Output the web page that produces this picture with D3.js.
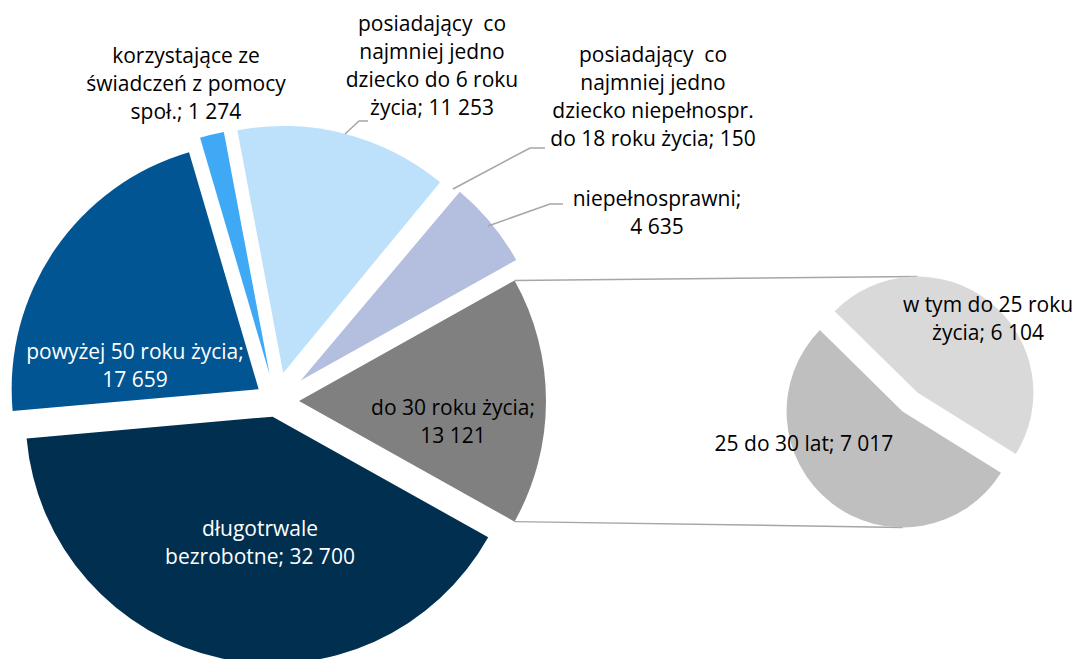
<!DOCTYPE html>
<html>
<head>
<meta charset="utf-8">
<script src="https://cdn.jsdelivr.net/npm/d3@7"></script>
<style>
  body { margin: 0; background: #fff; }
  text { font-family: "Open Sans", sans-serif; font-size: 21px; }
</style>
</head>
<body>
<div id="chart"></div>
<script>
// Data: main pie (the first slice is split out into the secondary pie)
const mainNames = [
  "do 30 roku życia",
  "długotrwale\nbezrobotne",
  "powyżej 50 roku życia",
  "korzystające ze\nświadczeń z pomocy\nspoł.",
  "posiadający  co\nnajmniej jedno\ndziecko do 6 roku\nżycia",
  "posiadający  co\nnajmniej jedno\ndziecko niepełnospr.\ndo 18 roku życia",
  "niepełnosprawni"
];
const mainValues = [13121, 32700, 17659, 1274, 11253, 150, 4635];
const mainColors = ["#808080", "#002f50", "#005592", "#3fa9f5", "#bde1fb", "#ffffff", "#b4bfe0"];

// Data: secondary pie (breakdown of "do 30 roku życia")
const subNames = ["w tym do 25 roku\nżycia", "25 do 30 lat"];
const subValues = [6104, 7017];
const subColors = ["#d9d9d9", "#bfbfbf"];

const width = 1085, height = 659;
const fmt = d3.formatLocale({ decimal: ",", thousands: " ", grouping: [3] }).format(",d");

// Layout of the pies
const main = { cx: 276, cy: 401, r: 247 };
const mainExplode = [23, 16, 21, 27, 29, 31, 32];
const sub = { cx: 910, cy: 402, r: 116, explode: 12 };

// Label placements (centre of the first text line), colour and whether the value goes on its own line
const mainLabelPos = [
  { x: 453, y: 408, fill: "#000", newLine: true },
  { x: 260, y: 529, fill: "#fff", newLine: false },
  { x: 135, y: 352, fill: "#fff", newLine: true },
  { x: 186, y: 56, fill: "#000", newLine: false },
  { x: 432, y: 24, fill: "#000", newLine: false },
  { x: 653, y: 55, fill: "#000", newLine: false },
  { x: 657, y: 199, fill: "#000", newLine: true }
];
const subLabelPos = [
  { x: 988, y: 305, fill: "#000", newLine: false },
  { x: 804, y: 444, fill: "#000", newLine: false }
];
// Leader lines for outside labels
const leaders = [
  [[345, 134], [359, 121], [368, 121]],
  [[453, 189], [530, 148], [545, 148]],
  [[488, 226], [550, 204], [563, 204]]
];

const svg = d3.select("#chart").append("svg")
  .attr("width", width)
  .attr("height", height);

const rad = Math.PI / 180;

// Main pie: first slice centred on the right-hand side
const total = d3.sum(mainValues);
const half = mainValues[0] / total * Math.PI;
const mainPie = d3.pie().sort(null)
  .startAngle(Math.PI / 2 - half)
  .endAngle(Math.PI / 2 - half + 2 * Math.PI)(mainValues);

const mainArc = d3.arc().innerRadius(0).outerRadius(main.r);

// Secondary pie geometry
const subStart = -135.5 * rad + Math.PI / 2;
const subPie = d3.pie().sort(null)
  .startAngle(subStart)
  .endAngle(subStart + 2 * Math.PI)(subValues);
const subArc = d3.arc().innerRadius(0).outerRadius(sub.r);

function offset(d, e) {
  const m = (d.startAngle + d.endAngle) / 2;
  return [e * Math.sin(m), -e * Math.cos(m)];
}

// Connector lines between "do 30" slice and secondary pie
const other = mainPie[0];
const oOff = offset(other, mainExplode[0]);
const oApex = [main.cx + oOff[0], main.cy + oOff[1]];
const topStart = [oApex[0] + main.r * Math.sin(other.startAngle), oApex[1] - main.r * Math.cos(other.startAngle)];
const botStart = [oApex[0] + main.r * Math.sin(other.endAngle), oApex[1] - main.r * Math.cos(other.endAngle)];
const s0 = offset(subPie[0], sub.explode), s1 = offset(subPie[1], sub.explode);
const topEnd = [sub.cx + s0[0], sub.cy + s0[1] - sub.r];
const botEnd = [sub.cx + s1[0], sub.cy + s1[1] + sub.r];

svg.append("g").selectAll("line")
  .data([[topStart, topEnd], [botStart, botEnd]])
  .join("line")
  .attr("x1", d => d[0][0]).attr("y1", d => d[0][1])
  .attr("x2", d => d[1][0]).attr("y2", d => d[1][1])
  .attr("stroke", "#a6a6a6")
  .attr("stroke-width", 1.5);

// Main slices
svg.append("g").selectAll("path")
  .data(mainPie)
  .join("path")
  .attr("transform", (d, i) => {
    const o = offset(d, mainExplode[i]);
    return `translate(${main.cx + o[0]},${main.cy + o[1]})`;
  })
  .attr("d", mainArc)
  .attr("fill", (d, i) => mainColors[i]);

// Secondary slices
svg.append("g").selectAll("path")
  .data(subPie)
  .join("path")
  .attr("transform", d => {
    const o = offset(d, sub.explode);
    return `translate(${sub.cx + o[0]},${sub.cy + o[1]})`;
  })
  .attr("d", subArc)
  .attr("fill", (d, i) => subColors[i]);

// Leader lines
svg.append("g").selectAll("path")
  .data(leaders)
  .join("path")
  .attr("d", d3.line())
  .attr("fill", "none")
  .attr("stroke", "#a6a6a6")
  .attr("stroke-width", 1.5);

// Labels
function labelLines(name, value, newLine) {
  const lines = name.split("\n");
  if (newLine) {
    lines[lines.length - 1] += ";";
    lines.push(fmt(value));
  } else {
    lines[lines.length - 1] += "; " + fmt(value);
  }
  return lines;
}

function drawLabels(names, values, pos) {
  const lineH = 28;
  const g = svg.append("g");
  names.forEach((name, i) => {
    const p = pos[i];
    const lines = labelLines(name, values[i], p.newLine);
    const t = g.append("text")
      .attr("text-anchor", "middle")
      .attr("fill", p.fill)
      .attr("xml:space", "preserve");
    lines.forEach((ln, j) => {
      t.append("tspan")
        .attr("x", p.x)
        .attr("y", p.y + j * lineH)
        .attr("dy", "0.35em")
        .text(ln);
    });
  });
}

drawLabels(mainNames, mainValues, mainLabelPos);
drawLabels(subNames, subValues, subLabelPos);
</script>
</body>
</html>
